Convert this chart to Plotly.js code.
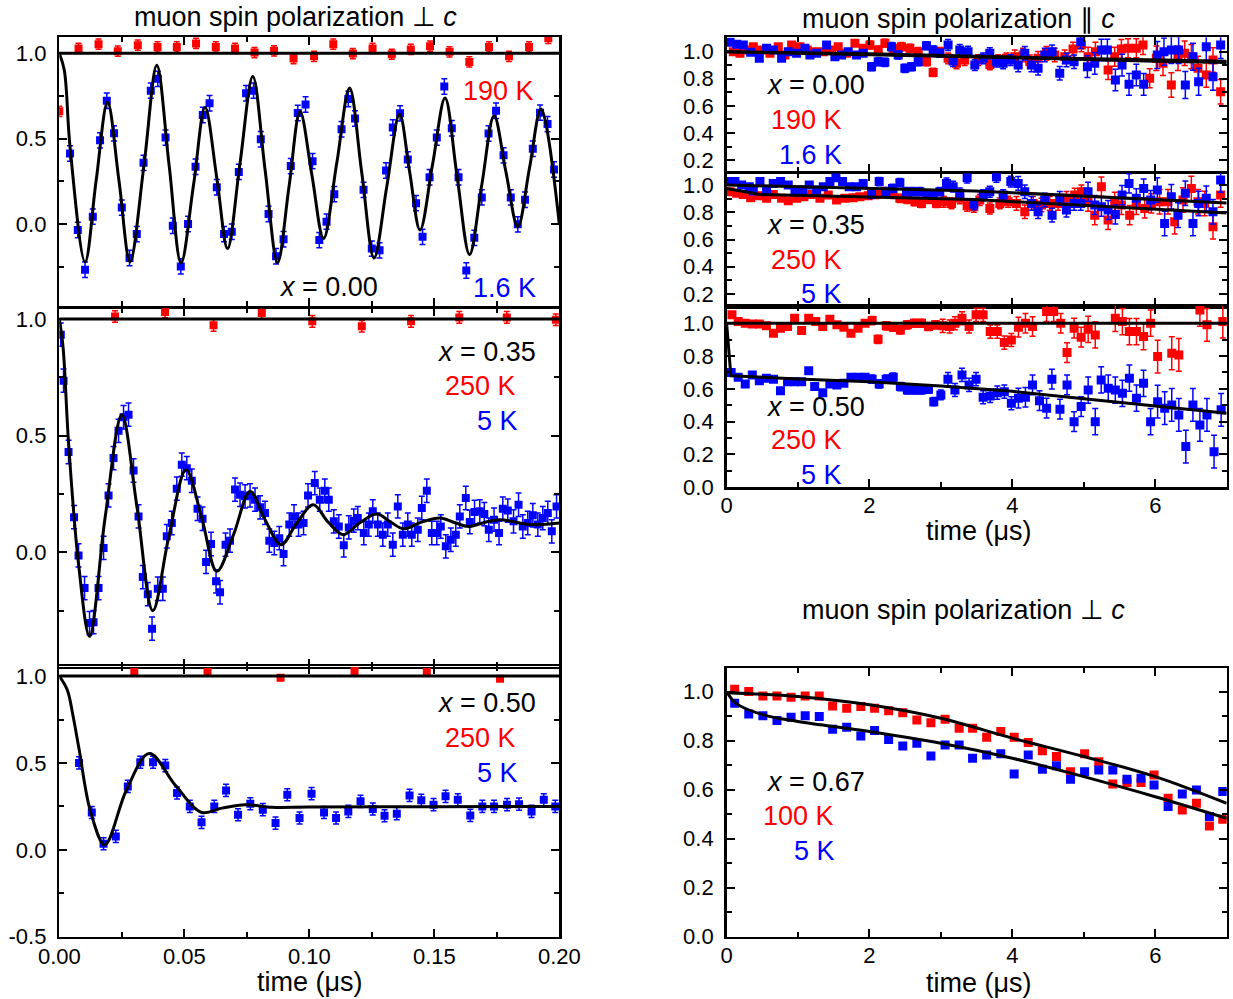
<!DOCTYPE html>
<html>
<head>
<meta charset="utf-8">
<script src="https://cdn.plot.ly/plotly-3.0.1.min.js"></script>
<style>html,body{margin:0;padding:0;background:#fff}#chart{width:1233px;height:999px}</style>
</head>
<body>
<div id="chart"></div>
<script>
// ---------------- DATA ----------------
// Left column: muon spin polarization ⊥ c, time in µs  [t, P]
const perpX000_1p6K = [[0.0043,0.413],[0.0074,-0.035],[0.0103,-0.268],[0.0134,0.043],[0.0163,0.49],[0.019,0.722],[0.0219,0.531],[0.025,0.096],[0.0281,-0.199],[0.031,-0.059],[0.0337,0.358],[0.0366,0.781],[0.0394,0.85],[0.0425,0.506],[0.0454,-0.01],[0.0486,-0.248],[0.0515,0.0],[0.0545,0.335],[0.0574,0.638],[0.0601,0.707],[0.063,0.215],[0.0659,-0.059],[0.069,-0.045],[0.0718,0.305],[0.0747,0.766],[0.0777,0.781],[0.0806,0.496],[0.0837,0.059],[0.0867,-0.189],[0.0897,-0.089],[0.0926,0.339],[0.0954,0.65],[0.0985,0.70],[0.1013,0.368],[0.104,-0.094],[0.1069,0.014],[0.11,0.175],[0.1129,0.555],[0.1156,0.732],[0.1183,0.618],[0.1217,0.2],[0.125,-0.144],[0.1281,-0.154],[0.1307,0.313],[0.1334,0.565],[0.1363,0.648],[0.1394,0.378],[0.1427,0.122],[0.1453,-0.075],[0.1481,0.274],[0.151,0.506],[0.154,0.805],[0.157,0.561],[0.1597,0.274],[0.1628,-0.272],[0.166,-0.081],[0.169,0.156],[0.1717,0.53],[0.1747,0.663],[0.1777,0.402],[0.1806,0.156],[0.1834,-0.002],[0.1863,0.142],[0.1894,0.441],[0.1923,0.652],[0.1953,0.585],[0.1979,0.319]];
const perpX000_190K = [[0.0,0.66],[0.0077,1.028],[0.0157,1.053],[0.0234,1.012],[0.0314,1.047],[0.0393,1.037],[0.047,1.037],[0.0547,1.057],[0.0626,1.037],[0.0703,1.028],[0.0781,1.004],[0.0859,1.014],[0.0937,0.969],[0.1019,0.982],[0.1096,1.053],[0.1174,0.998],[0.1253,1.028],[0.133,0.994],[0.1406,1.022],[0.1483,1.041],[0.1561,1.008],[0.164,0.949],[0.1719,1.037],[0.1799,0.982],[0.1879,1.037],[0.1956,1.087]];
const perpX000_fit = [[0,1.0],[0.002,0.9],[0.0043,0.45],[0.0103,-0.222],[0.0147,0.25],[0.0193,0.713],[0.0239,0.25],[0.0283,-0.222],[0.0339,0.348],[0.039,0.929],[0.0439,0.348],[0.0487,-0.228],[0.0537,0.23],[0.0583,0.683],[0.063,0.27],[0.0673,-0.144],[0.0723,0.358],[0.0774,0.864],[0.0823,0.319],[0.0873,-0.226],[0.0919,0.22],[0.0963,0.659],[0.101,0.29],[0.1057,-0.085],[0.111,0.358],[0.1161,0.797],[0.121,0.299],[0.1259,-0.199],[0.131,0.22],[0.1361,0.644],[0.1401,0.309],[0.1443,-0.035],[0.1493,0.348],[0.1543,0.738],[0.1591,0.28],[0.1641,-0.179],[0.169,0.23],[0.1739,0.634],[0.1786,0.309],[0.1834,-0.016],[0.1881,0.329],[0.1927,0.673],[0.2,0.0]];
const perpX000_fitHighT = [[0,1.0],[0.2,1.0]];

const perpX035_5K = [[0.0006,0.933],[0.0017,0.736],[0.0037,0.43],[0.0059,0.151],[0.0077,-0.013],[0.0101,-0.153],[0.0121,-0.303],[0.0137,-0.299],[0.0157,-0.153],[0.0177,0.019],[0.0197,0.244],[0.0217,0.404],[0.0237,0.521],[0.0257,0.579],[0.0277,0.59],[0.0297,0.351],[0.0317,0.154],[0.0334,-0.106],[0.0354,-0.179],[0.0371,-0.327],[0.0394,-0.156],[0.0414,-0.156],[0.043,0.069],[0.045,0.126],[0.047,0.273],[0.049,0.376],[0.051,0.361],[0.053,0.307],[0.0553,0.187],[0.0573,0.144],[0.0587,-0.041],[0.0607,0.036],[0.0627,-0.124],[0.0643,-0.171],[0.0665,0.033],[0.0683,0.05],[0.0703,0.269],[0.0723,0.247],[0.0743,0.24],[0.0763,0.244],[0.0783,0.226],[0.0803,0.193],[0.0823,0.169],[0.084,0.05],[0.086,0.04],[0.088,0.061],[0.0897,-0.007],[0.092,0.119],[0.0939,0.154],[0.0957,0.119],[0.0977,0.126],[0.0995,0.244],[0.1022,0.297],[0.1042,0.226],[0.1062,0.264],[0.1078,0.226],[0.1098,0.133],[0.1118,0.111],[0.1138,0.03],[0.1158,0.107],[0.1178,0.136],[0.1194,0.147],[0.1218,0.083],[0.1238,0.119],[0.1254,0.176],[0.1274,0.119],[0.1294,0.076],[0.1314,0.119],[0.1334,0.033],[0.1354,0.197],[0.1374,0.076],[0.1394,0.119],[0.141,0.076],[0.1434,0.097],[0.145,0.19],[0.147,0.264],[0.149,0.083],[0.151,0.083],[0.1526,0.111],[0.1546,0.026],[0.1566,0.054],[0.1586,0.076],[0.1602,0.154],[0.1626,0.233],[0.1642,0.13],[0.1661,0.173],[0.1682,0.176],[0.17,0.164],[0.1718,0.097],[0.1739,0.14],[0.1759,0.083],[0.1774,0.187],[0.1794,0.179],[0.1817,0.133],[0.1837,0.204],[0.1854,0.111],[0.1874,0.126],[0.1894,0.159],[0.1914,0.119],[0.1934,0.147],[0.1954,0.169],[0.197,0.09],[0.1989,0.197]];
const perpX035_250K = [[0.0223,1.011],[0.0423,1.03],[0.0617,0.973],[0.081,1.026],[0.1012,0.99],[0.121,0.969],[0.1407,0.99],[0.16,1.007],[0.179,1.007],[0.1986,0.997]];
const perpX035_fit = [[0,1.0],[0.0015,0.88],[0.0037,0.47],[0.0077,-0.05],[0.0121,-0.36],[0.0183,0.147],[0.025,0.59],[0.031,0.2],[0.0374,-0.25],[0.0437,0.061],[0.0507,0.354],[0.057,0.147],[0.063,-0.081],[0.0697,0.076],[0.0763,0.261],[0.0823,0.14],[0.0887,0.033],[0.095,0.126],[0.1016,0.204],[0.1075,0.13],[0.1136,0.076],[0.12,0.125],[0.127,0.164],[0.1325,0.13],[0.1377,0.101],[0.145,0.13],[0.1523,0.147],[0.158,0.128],[0.1637,0.111],[0.17,0.128],[0.1763,0.14],[0.1883,0.119],[0.2,0.126]];
const perpX035_fitHighT = [[0,1.0],[0.2,1.0]];

const perpX050_5K = [[0.0079,0.5],[0.013,0.215],[0.0177,0.035],[0.0226,0.077],[0.0274,0.365],[0.0324,0.504],[0.0375,0.504],[0.0424,0.485],[0.0471,0.327],[0.0522,0.25],[0.0569,0.158],[0.062,0.25],[0.0667,0.342],[0.0715,0.202],[0.0764,0.265],[0.0814,0.231],[0.0865,0.154],[0.0912,0.317],[0.0961,0.183],[0.1009,0.323],[0.1059,0.215],[0.1107,0.183],[0.1156,0.221],[0.1205,0.279],[0.1254,0.235],[0.1301,0.196],[0.135,0.208],[0.1401,0.313],[0.1448,0.285],[0.1497,0.26],[0.1545,0.308],[0.1594,0.288],[0.1644,0.198],[0.1692,0.25],[0.1739,0.25],[0.1791,0.26],[0.1839,0.263],[0.1889,0.221],[0.1938,0.288],[0.1984,0.25]];
const perpX050_250K = [[0.03,1.023],[0.0593,1.023],[0.0885,0.99],[0.1181,1.029],[0.147,1.023],[0.1763,0.985]];
const perpX050_fit = [[0,1.0],[0.0032,0.92],[0.0055,0.77],[0.0079,0.58],[0.0125,0.22],[0.0182,0.029],[0.0269,0.346],[0.036,0.554],[0.0465,0.37],[0.0569,0.215],[0.065,0.24],[0.0743,0.26],[0.085,0.245],[0.0996,0.246],[0.15,0.248],[0.2,0.25]];
const perpX050_fitHighT = [[0,1.0],[0.2,1.0]];

// Right column: muon spin polarization ∥ c, time in µs  [t, P, error]
const parX000_1p6K = [[0.048,1.069,0.012],[0.141,1.054,0.012],[0.234,1.049,0.012],[0.337,0.995,0.012],[0.458,0.951,0.012],[0.56,1.025,0.012],[0.653,1.012,0.012],[0.77,0.951,0.012],[0.863,1.0,0.012],[0.98,0.988,0.012],[1.096,1.025,0.02],[1.166,0.975,0.02],[1.259,0.988,0.02],[1.4,1.049,0.02],[1.516,0.963,0.02],[1.609,0.975,0.02],[1.702,1.0,0.02],[1.819,0.975,0.02],[1.912,0.988,0.02],[2.029,0.889,0.03],[2.122,0.926,0.03],[2.215,0.921,0.03],[2.308,1.037,0.03],[2.402,0.975,0.03],[2.495,0.877,0.03],[2.588,0.889,0.03],[2.681,0.926,0.03],[2.798,1.044,0.03],[2.891,1.012,0.03],[2.984,0.988,0.03],[3.1,1.049,0.04],[3.17,0.931,0.04],[3.264,1.012,0.04],[3.38,1.0,0.04],[3.474,0.901,0.04],[3.591,0.951,0.04],[3.684,0.988,0.04],[3.777,0.926,0.04],[3.871,0.914,0.04],[3.978,0.938,0.04],[4.081,0.901,0.05],[4.174,0.988,0.05],[4.267,0.901,0.05],[4.36,0.877,0.05],[4.453,0.975,0.05],[4.556,1.0,0.05],[4.663,0.84,0.05],[4.757,0.938,0.05],[4.864,0.926,0.05],[4.957,1.074,0.05],[5.05,0.889,0.08],[5.153,0.914,0.08],[5.246,1.012,0.08],[5.33,1.012,0.08],[5.442,0.791,0.08],[5.535,0.901,0.08],[5.633,0.759,0.08],[5.735,0.828,0.08],[5.838,0.759,0.08],[6.029,0.975,0.1],[6.122,1.0,0.1],[6.225,1.012,0.1],[6.327,1.012,0.1],[6.421,0.754,0.1],[6.528,0.963,0.1],[6.607,0.778,0.1],[6.714,1.037,0.1],[6.808,0.815,0.1],[6.915,1.049,0.1]];
const parX000_190K = [[0.094,1.0,0.012],[0.187,0.988,0.012],[0.281,1.012,0.012],[0.374,1.037,0.012],[0.49,1.012,0.012],[0.607,0.988,0.012],[0.723,1.037,0.012],[0.816,0.975,0.012],[0.91,1.049,0.012],[1.026,1.037,0.02],[1.129,1.012,0.02],[1.236,1.0,0.02],[1.353,1.0,0.02],[1.469,1.012,0.02],[1.562,1.037,0.02],[1.679,0.988,0.02],[1.796,1.062,0.02],[1.912,1.025,0.02],[2.006,1.049,0.03],[2.122,1.012,0.03],[2.215,1.062,0.03],[2.332,1.025,0.03],[2.448,1.037,0.03],[2.565,1.025,0.03],[2.681,1.0,0.03],[2.798,0.926,0.03],[2.891,0.847,0.03],[2.984,1.0,0.03],[3.1,0.951,0.04],[3.217,0.914,0.04],[3.333,0.938,0.04],[3.521,0.938,0.04],[3.684,0.906,0.04],[3.801,0.938,0.04],[3.917,0.951,0.04],[4.034,0.963,0.05],[4.15,0.975,0.05],[4.244,0.926,0.05],[4.36,0.951,0.05],[4.477,0.988,0.05],[4.593,0.975,0.05],[4.733,0.963,0.05],[4.849,1.02,0.05],[4.966,1.049,0.05],[5.06,0.963,0.07],[5.162,1.0,0.07],[5.34,0.865,0.07],[5.432,0.963,0.07],[5.526,1.02,0.07],[5.619,1.025,0.07],[5.735,1.025,0.07],[5.829,1.049,0.07],[5.922,0.803,0.07],[6.015,0.951,0.09],[6.108,0.914,0.09],[6.225,0.754,0.09],[6.318,0.951,0.09],[6.412,0.988,0.09],[6.505,0.963,0.09],[6.598,0.877,0.09],[6.714,0.828,0.09],[6.808,0.938,0.09],[6.915,0.704,0.09]];
const parX000_fitLowT = [[0,1.0],[2,0.98],[4,0.955],[6,0.93],[7,0.92]];
const parX000_fitHighT = [[0,1.0],[2,0.985],[4,0.96],[6,0.94],[7,0.93]];

const parX035_5K = [[0.024,1.025,0.012],[0.117,1.025,0.012],[0.211,1.0,0.012],[0.318,0.988,0.012],[0.374,0.956,0.012],[0.467,1.025,0.012],[0.56,0.963,0.012],[0.653,1.012,0.012],[0.756,1.025,0.012],[0.863,1.0,0.012],[0.957,0.951,0.012],[1.064,0.963,0.02],[1.157,1.0,0.02],[1.26,0.963,0.02],[1.353,0.988,0.02],[1.446,1.025,0.02],[1.53,1.054,0.02],[1.623,1.025,0.02],[1.716,0.988,0.02],[1.819,0.988,0.02],[1.912,1.012,0.02],[2.029,0.931,0.03],[2.136,1.025,0.03],[2.229,0.951,0.03],[2.322,0.975,0.03],[2.425,1.017,0.03],[2.518,0.951,0.03],[2.611,0.951,0.03],[2.705,0.951,0.03],[2.807,0.931,0.03],[2.891,0.926,0.03],[2.984,0.951,0.03],[3.078,1.012,0.04],[3.171,0.988,0.04],[3.264,0.939,0.04],[3.367,1.054,0.04],[3.46,0.858,0.04],[3.591,0.926,0.04],[3.684,0.951,0.04],[3.777,1.061,0.04],[3.871,0.926,0.04],[3.978,1.025,0.04],[4.081,1.012,0.05],[4.174,0.951,0.05],[4.267,0.865,0.05],[4.36,0.804,0.05],[4.453,0.89,0.05],[4.556,0.779,0.05],[4.663,0.902,0.05],[4.757,0.816,0.05],[4.864,0.865,0.05],[4.957,0.865,0.05],[5.059,0.951,0.07],[5.153,0.853,0.07],[5.246,0.841,0.07],[5.34,0.816,0.07],[5.442,0.784,0.07],[5.535,0.926,0.07],[5.633,1.012,0.07],[5.735,0.902,0.07],[5.838,0.975,0.07],[5.936,0.89,0.07],[6.029,0.963,0.09],[6.131,0.718,0.09],[6.225,0.914,0.09],[6.318,0.779,0.09],[6.421,0.939,0.09],[6.528,0.718,0.09],[6.607,0.865,0.09],[6.714,0.902,0.09],[6.808,0.804,0.09],[6.915,1.037,0.09]];
const parX035_250K = [[0.048,0.951,0.012],[0.141,0.939,0.012],[0.234,0.931,0.012],[0.337,0.907,0.012],[0.458,0.922,0.012],[0.56,0.902,0.012],[0.653,0.931,0.012],[0.77,0.902,0.012],[0.863,0.885,0.012],[0.98,0.902,0.012],[1.082,0.914,0.02],[1.19,0.931,0.02],[1.306,0.902,0.02],[1.423,0.926,0.02],[1.539,0.89,0.02],[1.656,0.902,0.02],[1.772,0.907,0.02],[1.866,0.914,0.02],[1.982,0.922,0.02],[2.099,0.931,0.03],[2.215,0.951,0.03],[2.332,0.931,0.03],[2.425,0.902,0.03],[2.528,0.895,0.03],[2.635,0.877,0.03],[2.728,0.865,0.03],[2.835,0.895,0.03],[2.938,0.865,0.03],[3.04,0.877,0.04],[3.148,0.865,0.04],[3.264,0.902,0.04],[3.367,0.848,0.04],[3.46,0.841,0.04],[3.544,0.89,0.04],[3.684,0.828,0.04],[3.824,0.865,0.04],[3.941,0.877,0.04],[4.057,0.865,0.05],[4.174,0.804,0.05],[4.29,0.865,0.05],[4.407,0.853,0.05],[4.523,0.865,0.05],[4.64,0.865,0.05],[4.757,0.902,0.05],[4.873,0.926,0.05],[4.967,0.951,0.05],[5.059,0.877,0.07],[5.153,0.779,0.07],[5.246,0.988,0.07],[5.34,0.743,0.07],[5.432,0.877,0.07],[5.526,0.853,0.07],[5.642,0.779,0.07],[5.735,0.853,0.07],[5.852,0.828,0.07],[5.945,0.865,0.07],[6.061,0.877,0.09],[6.178,0.877,0.09],[6.272,0.73,0.09],[6.388,0.89,0.09],[6.505,0.975,0.09],[6.598,0.877,0.09],[6.691,0.865,0.09],[6.808,0.694,0.09],[6.915,0.926,0.09]];
const parX035_fitLowT = [[0,1.0],[3.47,0.957],[7,0.868]];
const parX035_fitHighT = [[0,0.975],[0.47,0.93],[3.47,0.893],[7,0.795]];

const parX050_5K = [[0.064,0.699,0.012],[0.162,0.671,0.012],[0.261,0.63,0.012],[0.36,0.685,0.012],[0.458,0.65,0.012],[0.557,0.665,0.012],[0.656,0.659,0.012],[0.754,0.589,0.012],[0.853,0.644,0.012],[0.952,0.644,0.012],[1.05,0.644,0.015],[1.149,0.711,0.015],[1.233,0.614,0.015],[1.346,0.577,0.015],[1.445,0.63,0.015],[1.544,0.624,0.015],[1.642,0.634,0.015],[1.741,0.671,0.015],[1.84,0.671,0.015],[1.938,0.671,0.015],[2.037,0.659,0.025],[2.136,0.63,0.025],[2.234,0.659,0.025],[2.333,0.671,0.025],[2.432,0.614,0.025],[2.53,0.593,0.025],[2.629,0.593,0.025],[2.728,0.593,0.025],[2.826,0.598,0.025],[2.9,0.522,0.025],[2.999,0.563,0.03],[3.098,0.659,0.04],[3.196,0.593,0.04],[3.295,0.685,0.04],[3.394,0.624,0.04],[3.492,0.659,0.04],[3.591,0.549,0.04],[3.69,0.557,0.04],[3.789,0.577,0.04],[3.887,0.583,0.04],[3.986,0.512,0.04],[4.085,0.543,0.06],[4.183,0.549,0.06],[4.282,0.624,0.06],[4.38,0.528,0.06],[4.479,0.482,0.06],[4.553,0.659,0.06],[4.666,0.476,0.06],[4.765,0.624,0.06],[4.864,0.4,0.06],[4.963,0.492,0.06],[5.061,0.593,0.08],[5.16,0.4,0.08],[5.243,0.654,0.08],[5.342,0.604,0.08],[5.441,0.593,0.08],[5.54,0.573,0.08],[5.638,0.665,0.08],[5.737,0.543,0.08],[5.836,0.634,0.08],[5.935,0.4,0.08],[6.033,0.522,0.1],[6.132,0.482,0.1],[6.231,0.502,0.1],[6.33,0.441,0.1],[6.428,0.248,0.1],[6.527,0.502,0.1],[6.625,0.38,0.1],[6.724,0.441,0.1],[6.823,0.217,0.1],[6.922,0.472,0.1]];
const parX050_250K = [[0.075,1.051,0.012],[0.162,1.01,0.012],[0.261,1.0,0.012],[0.36,0.996,0.012],[0.458,0.996,0.012],[0.557,0.984,0.012],[0.656,0.939,0.012],[0.754,0.97,0.012],[0.853,0.98,0.012],[0.952,1.03,0.012],[1.05,0.955,0.015],[1.149,1.03,0.015],[1.248,1.01,0.015],[1.346,0.98,0.015],[1.445,1.024,0.015],[1.544,0.99,0.015],[1.642,0.976,0.015],[1.741,0.939,0.015],[1.84,0.97,0.015],[1.938,1.0,0.015],[2.037,1.016,0.025],[2.12,0.902,0.025],[2.234,0.984,0.025],[2.333,0.976,0.025],[2.432,0.959,0.025],[2.53,0.99,0.025],[2.629,1.0,0.025],[2.728,1.0,0.025],[2.826,0.98,0.025],[2.925,0.99,0.025],[3.024,0.984,0.04],[3.122,0.98,0.04],[3.196,1.0,0.04],[3.295,1.03,0.04],[3.394,0.98,0.04],[3.492,1.051,0.04],[3.591,1.051,0.04],[3.69,0.949,0.04],[3.789,0.949,0.04],[3.887,0.882,0.04],[3.986,0.898,0.04],[4.085,0.976,0.06],[4.183,1.0,0.06],[4.282,0.98,0.06],[4.479,1.071,0.06],[4.578,1.071,0.06],[4.677,1.0,0.06],[4.765,0.821,0.06],[4.864,0.97,0.06],[4.963,0.915,0.06],[5.061,0.963,0.08],[5.16,0.929,0.08],[5.441,1.03,0.08],[5.54,1.01,0.08],[5.638,0.949,0.08],[5.737,0.949,0.08],[5.836,0.919,0.08],[5.935,1.0,0.08],[6.033,0.797,0.1],[6.231,0.817,0.1],[6.33,0.807,0.1],[6.625,1.081,0.1],[6.724,0.99,0.1],[6.946,1.01,0.1]];
const parX050_fitLowT = [[0,1.0],[0.06,0.68],[1,0.66],[2,0.643],[3,0.617],[4,0.585],[5,0.54],[6,0.495],[7,0.451]];
const parX050_fitHighT = [[0,1.0],[7,1.0]];

// Bottom right: x = 0.67, polarization ⊥ c  [t, P]
const perpX067_100K = [[0.113,1.01],[0.31,1.0],[0.508,0.982],[0.705,0.982],[0.902,0.977],[1.1,0.982],[1.297,0.982],[1.484,0.941],[1.681,0.932],[1.879,0.939],[2.071,0.932],[2.268,0.922],[2.466,0.914],[2.663,0.884],[2.86,0.873],[3.058,0.887],[3.255,0.85],[3.443,0.85],[3.64,0.814],[3.838,0.837],[4.025,0.814],[4.222,0.792],[4.42,0.759],[4.617,0.735],[4.814,0.673],[5.011,0.746],[5.209,0.714],[5.406,0.623],[5.604,0.629],[5.801,0.629],[5.983,0.66],[6.18,0.565],[6.378,0.517],[6.576,0.544],[6.758,0.452],[6.945,0.479]];
const perpX067_5K = [[0.113,0.952],[0.31,0.909],[0.508,0.901],[0.705,0.882],[0.902,0.895],[1.1,0.901],[1.297,0.898],[1.484,0.846],[1.681,0.854],[1.879,0.819],[2.071,0.841],[2.268,0.805],[2.466,0.778],[2.663,0.789],[2.86,0.737],[3.058,0.782],[3.255,0.782],[3.443,0.728],[3.64,0.741],[3.838,0.746],[4.025,0.664],[4.222,0.741],[4.42,0.683],[4.617,0.697],[4.814,0.642],[5.011,0.673],[5.209,0.68],[5.406,0.68],[5.604,0.642],[5.801,0.646],[5.983,0.619],[6.18,0.531],[6.378,0.582],[6.576,0.599],[6.758,0.49],[6.945,0.592]];
const perpX067_fitHighT = [[0,0.995],[1,0.98],[2,0.946],[3,0.891],[4,0.81],[5,0.735],[6,0.653],[7,0.544]];
const perpX067_fitLowT = [[0,1.0],[0.131,0.952],[0.515,0.905],[1,0.878],[2,0.837],[3,0.789],[4,0.728],[5,0.653],[6,0.571],[7,0.483]];

// Tick labels
const leftYTickVals = [-0.5, 0, 0.5, 1.0];
const leftYTickText = ['-0.5', '0.0', '0.5', '1.0'];
const leftXTickVals = [0, 0.05, 0.10, 0.15, 0.20];
const leftXTickText = ['0.00', '0.05', '0.10', '0.15', '0.20'];
const rightYTickVals = [0, 0.2, 0.4, 0.6, 0.8, 1.0];
const rightYTickText = ['0.0', '0.2', '0.4', '0.6', '0.8', '1.0'];
const rightXTickVals = [0, 2, 4, 6];
const rightXTickText = ['0', '2', '4', '6'];

// ---------------- DRAWING ----------------
const W = 1233, H = 999;
const FONT = 'Arial, "Liberation Sans", sans-serif';
const RED = '#ff0000', BLUE = '#0000ff';
const fx = p => p / W;
const fy = p => 1 - p / H;

function pts(arr, xa, ya, color, size, err) {
  return {type:'scatter', mode:'markers', x:arr.map(d=>d[0]), y:arr.map(d=>d[1]),
    xaxis:xa, yaxis:ya, showlegend:false, hoverinfo:'skip',
    marker:{symbol:'square', size:size, color:color, line:{width:0}},
    error_y: err};
}
function errC(v, color){ return {type:'constant', value:v, color:color, thickness:1.5, width:3}; }
function errA(arr, color){ return {type:'data', array:arr.map(d=>d[2]), color:color, thickness:1.5, width:3}; }
function fit(arr, xa, ya, shape) {
  return {type:'scatter', mode:'lines', x:arr.map(d=>d[0]), y:arr.map(d=>d[1]),
    xaxis:xa, yaxis:ya, showlegend:false, hoverinfo:'skip',
    line:{color:'#000', width:3, shape:shape||'linear', smoothing:1}};
}

const traces = [
  pts(perpX000_190K,'x','y',RED,8,errC(0.03,RED)),
  pts(perpX000_1p6K,'x','y',BLUE,8,errC(0.045,BLUE)),
  fit(perpX000_fitHighT,'x','y'),
  fit(perpX000_fit,'x','y','spline'),

  pts(perpX035_250K,'x2','y2',RED,8,errC(0.025,RED)),
  pts(perpX035_5K,'x2','y2',BLUE,8,errC(0.05,BLUE)),
  fit(perpX035_fitHighT,'x2','y2'),
  fit(perpX035_fit,'x2','y2','spline'),

  pts(perpX050_250K,'x3','y3',RED,8,errC(0.015,RED)),
  pts(perpX050_5K,'x3','y3',BLUE,8,errC(0.035,BLUE)),
  fit(perpX050_fitHighT,'x3','y3'),
  fit(perpX050_fit,'x3','y3','spline'),

  pts(parX000_190K,'x4','y4',RED,9,errA(parX000_190K,RED)),
  pts(parX000_1p6K,'x4','y4',BLUE,9,errA(parX000_1p6K,BLUE)),
  fit(parX000_fitHighT,'x4','y4'),
  fit(parX000_fitLowT,'x4','y4'),

  pts(parX035_250K,'x5','y5',RED,9,errA(parX035_250K,RED)),
  pts(parX035_5K,'x5','y5',BLUE,9,errA(parX035_5K,BLUE)),
  fit(parX035_fitHighT,'x5','y5'),
  fit(parX035_fitLowT,'x5','y5'),

  pts(parX050_250K,'x6','y6',RED,9,errA(parX050_250K,RED)),
  pts(parX050_5K,'x6','y6',BLUE,9,errA(parX050_5K,BLUE)),
  fit(parX050_fitHighT,'x6','y6'),
  fit(parX050_fitLowT,'x6','y6'),

  pts(perpX067_100K,'x7','y7',RED,9),
  pts(perpX067_5K,'x7','y7',BLUE,9),
  fit(perpX067_fitHighT,'x7','y7','spline'),
  fit(perpX067_fitLowT,'x7','y7','spline')
];

function axis(extra) {
  return Object.assign({
    showline:true, linewidth:2.5, linecolor:'#000', mirror:'allticks',
    ticks:'inside', ticklen:8, tickwidth:2, tickcolor:'#000',
    showgrid:false, zeroline:false, fixedrange:true, tickmode:'array',
    ticklabelstandoff:6,
    tickfont:{family:FONT, size:22, color:'#000'}
  }, extra);
}
const LX = [fx(59.3), fx(559.3)];
const RX = [fx(726.6), fx(1226.7)];
const leftX = (anchor, labels) => axis({domain:LX, range:[0,0.2], anchor:anchor,
  tickvals:leftXTickVals, ticktext:leftXTickText, showticklabels:labels, ticklabelstandoff:-2,
  minor:{ticks:'inside', ticklen:5, tickwidth:2, tickcolor:'#000', dtick:0.025, tick0:0}});
const rightX = (anchor, labels) => axis({domain:RX, range:[0,7], anchor:anchor,
  tickvals:rightXTickVals, ticktext:rightXTickText, showticklabels:labels, ticklabelstandoff:-3,
  minor:{ticks:'inside', ticklen:5, tickwidth:2, tickcolor:'#000', dtick:1, tick0:0}});
const leftY = (anchor, top, bottom, range) => axis({domain:[fy(bottom), fy(top)], range:range, anchor:anchor,
  tickvals:leftYTickVals, ticktext:leftYTickText,
  minor:{ticks:'inside', ticklen:5, tickwidth:2, tickcolor:'#000', dtick:0.25, tick0:0}});
const rightY = (anchor, top, bottom, range) => axis({domain:[fy(bottom), fy(top)], range:range, anchor:anchor,
  tickvals:rightYTickVals, ticktext:rightYTickText,
  minor:{ticks:'inside', ticklen:5, tickwidth:2, tickcolor:'#000', dtick:0.1, tick0:0}});

function ann(text, x, y, color, xanchor, size) {
  return {text:text, x:fx(x), y:fy(y), xref:'paper', yref:'paper', showarrow:false,
    xanchor:xanchor||'center', yanchor:'middle',
    font:{family:FONT, size:size||27, color:color||'#000'}};
}

const annotations = [
  ann('muon spin polarization ⊥ <i>c</i>', 295, 17),
  ann('muon spin polarization ∥ <i>c</i>', 958, 19),
  ann('muon spin polarization ⊥ <i>c</i>', 963, 610),
  ann('time (μs)', 310, 982),
  ann('time (μs)', 979, 531),
  ann('time (μs)', 979, 983),
  // left panels
  ann('190 K', 536, 91, RED, 'right'),
  ann('<i>x</i> = 0.00', 277, 287, '#000', 'left'),
  ann('1.6 K', 538, 288, BLUE, 'right'),
  ann('<i>x</i> = 0.35', 538, 352, '#000', 'right'),
  ann('250 K', 518, 386, RED, 'right'),
  ann('5 K', 520, 421, BLUE, 'right'),
  ann('<i>x</i> = 0.50', 538, 703, '#000', 'right'),
  ann('250 K', 518, 738, RED, 'right'),
  ann('5 K', 520, 773, BLUE, 'right'),
  // right panels
  ann('<i>x</i> = 0.00', 764, 85, '#000', 'left'),
  ann('190 K', 844, 120, RED, 'right'),
  ann('1.6 K', 844, 155, BLUE, 'right'),
  ann('<i>x</i> = 0.35', 764, 225, '#000', 'left'),
  ann('250 K', 844, 260, RED, 'right'),
  ann('5 K', 844, 294, BLUE, 'right'),
  ann('<i>x</i> = 0.50', 764, 407, '#000', 'left'),
  ann('250 K', 844, 440, RED, 'right'),
  ann('5 K', 844, 475, BLUE, 'right'),
  ann('<i>x</i> = 0.67', 764, 782, '#000', 'left'),
  ann('100 K', 836, 816, RED, 'right'),
  ann('5 K', 837, 851, BLUE, 'right')
];

const layout = {
  width:W, height:H, margin:{l:0, r:0, t:0, b:0},
  paper_bgcolor:'#fff', plot_bgcolor:'rgba(0,0,0,0)', showlegend:false,
  font:{family:FONT, color:'#000'},
  xaxis: leftX('y', false),
  yaxis: leftY('x', 37, 306, [-0.48, 1.095]),
  xaxis2: leftX('y2', false),
  yaxis2: leftY('x2', 308.3, 666.7, [-0.49, 1.046]),
  xaxis3: leftX('y3', true),
  yaxis3: leftY('x3', 666, 936.7, [-0.5, 1.058]),
  xaxis4: rightX('y4', false),
  yaxis4: rightY('x4', 37.3, 171.7, [0.114, 1.106]),
  xaxis5: rightX('y5', false),
  yaxis5: rightY('x5', 173.3, 306, [0.112, 1.086]),
  xaxis6: rightX('y6', true),
  yaxis6: rightY('x6', 306, 487.3, [0, 1.105]),
  xaxis7: rightX('y7', true),
  yaxis7: rightY('x7', 668.3, 936.7, [0, 1.095]),
  annotations: annotations
};

Plotly.newPlot('chart', traces, layout, {staticPlot:true, displayModeBar:false});
</script>
</body>
</html>
